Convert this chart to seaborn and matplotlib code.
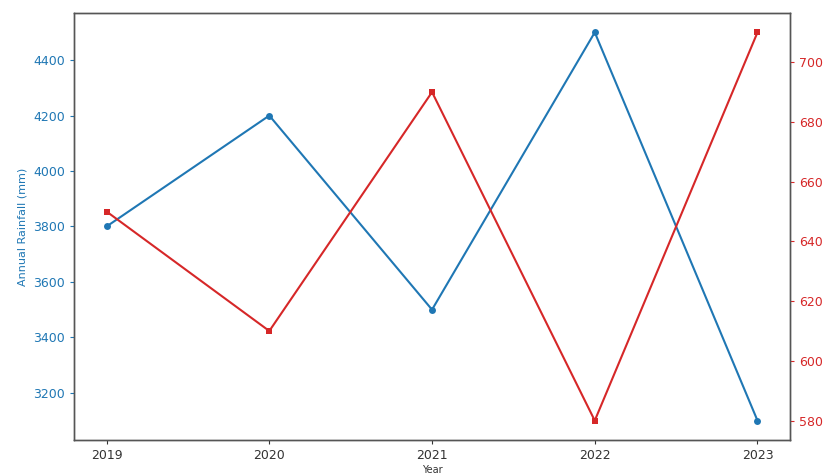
import matplotlib
matplotlib.use("Agg")
import matplotlib.pyplot as plt
import seaborn as sns
import pandas as pd

years = [2019, 2020, 2021, 2022, 2023]
rainfall = [3800, 4200, 3500, 4500, 3100]
second_series = [650, 610, 690, 580, 710]
year_labels = ["2019", "2020", "2021", "2022", "2023"]

blue = "#1f77b4"
red = "#d62728"

sns.set_style("white")
plt.rcParams["font.family"] = ["DejaVu Sans"]

df = pd.DataFrame({"Year": years, "Rainfall": rainfall, "Other": second_series})

fig = plt.figure(figsize=(8.29, 4.75), dpi=100)
ax = fig.add_axes([0.0893, 0.0737, 0.8637, 0.899])
sns.lineplot(data=df, x="Year", y="Rainfall", ax=ax, color=blue, marker="o",
             markersize=5, markeredgewidth=0, linewidth=1.5)
ax2 = ax.twinx()
sns.lineplot(data=df, x="Year", y="Other", ax=ax2, color=red, marker="s",
             markersize=5, markeredgewidth=0, linewidth=1.5)

ax.set_xticks(years)
ax.set_xticklabels(year_labels)
ax.set_xlabel("Year", fontsize=7, color="#333333", labelpad=2)
ax.set_ylabel("Annual Rainfall (mm)", fontsize=8, color=blue)
ax2.set_ylabel("")
ax.set_yticks([3200, 3400, 3600, 3800, 4000, 4200, 4400])
ax2.set_yticks([580, 600, 620, 640, 660, 680, 700])

ax.tick_params(axis="y", colors=blue, labelsize=9, length=3, direction="out", left=True)
ax.tick_params(axis="x", colors="#333333", labelsize=9, length=3, direction="out", bottom=True)
ax2.tick_params(axis="y", colors=red, labelsize=9, length=3, direction="out", right=True)
for a in (ax, ax2):
    for s in a.spines.values():
        s.set_color("#555555")
        s.set_linewidth(1.0)
for lab in ax.get_xticklabels():
    lab.set_color("#333333")

fig.savefig("out.png", dpi=100)
